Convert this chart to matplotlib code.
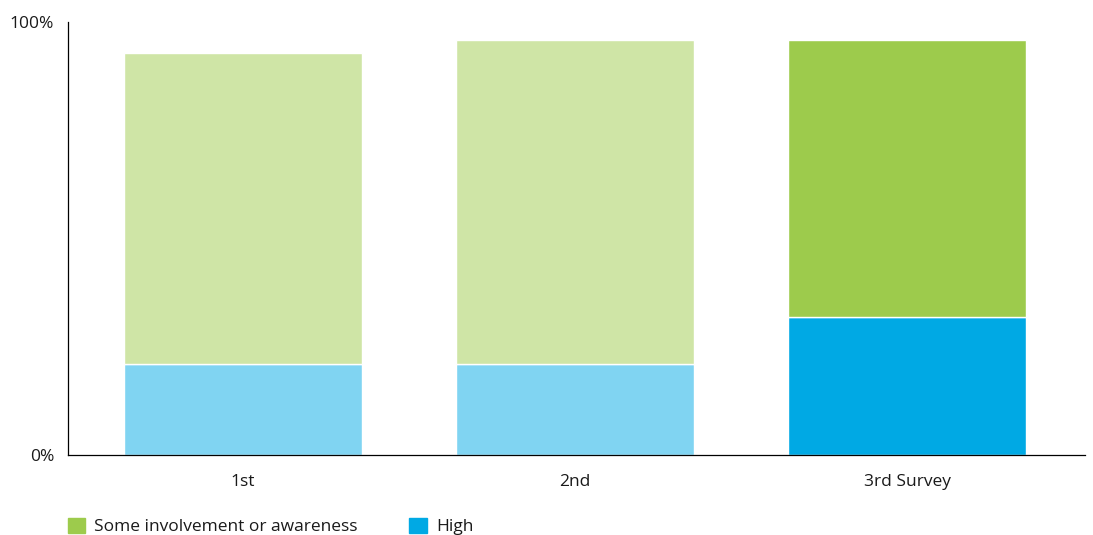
import matplotlib.pyplot as plt
from matplotlib.patches import Patch

surveys = ["1st", "2nd", "3rd Survey"]
high = [21.0, 21.0, 31.9]
some = [71.8, 74.8, 63.9]

# the last survey is shown in full colour, earlier ones faded
high_colors = ["#80d4f2", "#80d4f2", "#00a9e4"]
some_colors = ["#cfe5a6", "#cfe5a6", "#9dcb4c"]

plt.rcParams['font.family'] = ['Open Sans', 'DejaVu Sans']
plt.rcParams['text.color'] = '#1a1a1a'

fig = plt.figure(figsize=(10.93, 5.35), dpi=100)
ax = fig.add_axes([0.0622, 0.1495, 0.9305, 0.8094])

x = range(len(surveys))
ax.bar(x, high, width=0.717, color=high_colors, edgecolor="white", linewidth=1)
ax.bar(x, some, bottom=high, width=0.717, color=some_colors, edgecolor="white", linewidth=1)

ax.set_xlim(-0.527, 2.536)
ax.set_ylim(0, 100)
ax.set_xticks(list(x))
ax.set_xticklabels(surveys, fontsize=12.5, color='#1a1a1a')
ax.set_yticks([0, 100])
ax.set_yticklabels(["0%", "100%"], fontsize=12.5, color='#1a1a1a')
ax.tick_params(length=0, pad=10)
ax.tick_params(axis='x', pad=14)
for s in ["top", "right"]:
    ax.spines[s].set_visible(False)
for s in ["left", "bottom"]:
    ax.spines[s].set_linewidth(0.9)

handles = [Patch(color="#9dcb4c"), Patch(color="#00a9e4")]
fig.legend(handles, ["Some involvement or awareness", "High"], loc="lower left",
           bbox_to_anchor=(0.0475, -0.030), ncol=2, frameon=False, fontsize=12.5,
           handlelength=1.0, handleheight=1.0, handletextpad=0.55, columnspacing=2.95)

fig.savefig("out.png", dpi=100)
